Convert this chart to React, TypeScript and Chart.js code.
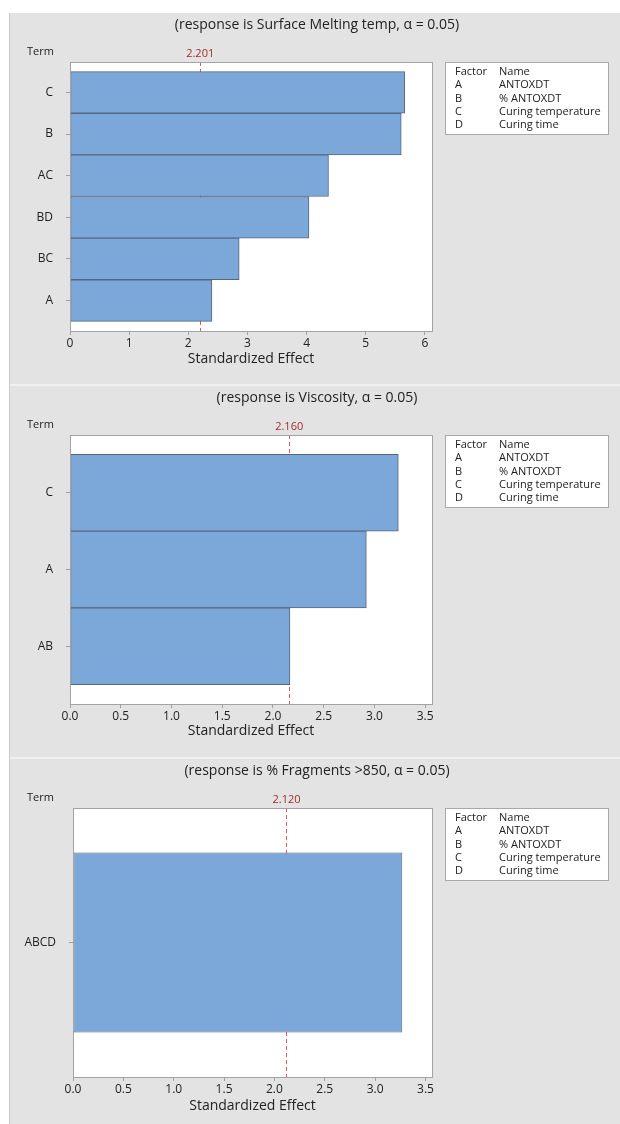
import React, { useEffect, useRef } from 'react';
import { Chart, registerables } from 'chart.js';

Chart.register(...registerables);

const FONT = "'Open Sans', 'DejaVu Sans', sans-serif";

// Legend (factor table)
const factorLetters = ['A', 'B', 'C', 'D'];
const factorNames = ['ANTOXDT', '% ANTOXDT', 'Curing temperature', 'Curing time'];

// Panel 1
const meltTitle = '(response is Surface Melting temp, α = 0.05)';
const meltTerms = ['C', 'B', 'AC', 'BD', 'BC', 'A'];
const meltEffects = [5.66, 5.6, 4.37, 4.04, 2.86, 2.4];
const meltCritical = 2.201;
const meltXTicks = [0, 1, 2, 3, 4, 5, 6];
const meltXLabels = ['0', '1', '2', '3', '4', '5', '6'];

// Panel 2
const viscTitle = '(response is Viscosity, α = 0.05)';
const viscTerms = ['C', 'A', 'AB'];
const viscEffects = [3.235, 2.92, 2.167];
const viscCritical = 2.16;
const viscXTicks = [0, 0.5, 1, 1.5, 2, 2.5, 3, 3.5];
const viscXLabels = ['0.0', '0.5', '1.0', '1.5', '2.0', '2.5', '3.0', '3.5'];

// Panel 3
const fragTitle = '(response is % Fragments >850, α = 0.05)';
const fragTerms = ['ABCD'];
const fragEffects = [3.27];
const fragCritical = 2.12;
const fragXTicks = [0, 0.5, 1, 1.5, 2, 2.5, 3, 3.5];
const fragXLabels = ['0.0', '0.5', '1.0', '1.5', '2.0', '2.5', '3.0', '3.5'];

const BG = '#e3e3e3';
const W = 610;

type PanelProps = {
  title: string;
  terms: string[];
  effects: number[];
  critical: number;
  critLabel: string;
  xMax: number;
  xTicks: number[];
  xLabels: string[];
  height: number;
  plotLeft: number;
  pad: number;
  stdY: number;
};

function ParetoPanel(p: PanelProps) {
  const ref = useRef<HTMLCanvasElement>(null);
  useEffect(() => {
    const canvas = ref.current;
    if (!canvas) return;
    const n = p.terms.length;
    const yMin = -0.5 - p.pad;
    const yMax = n - 0.5 + p.pad;
    const H = p.height;
    const plotTop = 49;
    const plotBottom = 318;
    const plotRight = 422;

    const decor = {
      id: 'decor',
      beforeDraw(chart: any) {
        const { ctx, chartArea: a } = chart;
        ctx.save();
        ctx.fillStyle = BG;
        ctx.fillRect(0, 0, W, H);
        ctx.fillStyle = '#ffffff';
        ctx.fillRect(a.left, a.top, a.right - a.left, a.bottom - a.top);
        ctx.restore();
      },
      beforeDatasetsDraw(chart: any) {
        const { ctx, chartArea: a } = chart;
        const x = Math.round(chart.scales.x.getPixelForValue(p.critical)) + 0.5;
        ctx.save();
        ctx.strokeStyle = '#e05555';
        ctx.lineWidth = 1;
        ctx.setLineDash([4, 3]);
        ctx.beginPath();
        ctx.moveTo(x, a.top);
        ctx.lineTo(x, a.bottom);
        ctx.stroke();
        ctx.restore();
      },
      afterDraw(chart: any) {
        const { ctx, chartArea: a } = chart;
        ctx.save();
        // plot frame
        ctx.strokeStyle = '#a3a3a3';
        ctx.lineWidth = 1;
        ctx.strokeRect(Math.round(a.left) + 0.5, Math.round(a.top) + 0.5, Math.round(a.right - a.left), Math.round(a.bottom - a.top));
        // panel title
        ctx.font = `14px ${FONT}`;
        ctx.fillStyle = '#222222';
        ctx.textAlign = 'center';
        ctx.textBaseline = 'middle';
        ctx.fillText(p.title, W / 2 + 2, 12);
        // critical label
        const x = chart.scales.x.getPixelForValue(p.critical);
        ctx.font = `11px ${FONT}`;
        ctx.fillStyle = '#9e2c2c';
        ctx.fillText(p.critLabel, x, 41);
        // Term label
        ctx.fillStyle = '#222222';
        ctx.textAlign = 'left';
        ctx.fillText('Term', 17, 39);
        // factor legend
        const bx = 436;
        const by = 50;
        ctx.fillStyle = '#ffffff';
        ctx.fillRect(bx, by, 163, 72);
        ctx.strokeStyle = '#a8a8a8';
        ctx.strokeRect(bx - 0.5, by - 0.5, 163, 72);
        ctx.fillStyle = '#222222';
        ctx.fillText('Factor', bx + 9, by + 9);
        ctx.fillText('Name', bx + 53, by + 9);
        factorLetters.forEach((f, i) => {
          const yy = by + 9 + 13.3 * (i + 1);
          ctx.fillText(f, bx + 9, yy);
          ctx.fillText(factorNames[i], bx + 53, yy);
        });
        ctx.restore();
      },
    };

    const chart = new Chart(canvas, {
      type: 'bar',
      data: {
        datasets: [
          {
            data: p.effects.map((v, i) => ({ x: v, y: i })),
            backgroundColor: '#7ba7d9',
            borderColor: '#56667c',
            borderWidth: 1,
            borderSkipped: false,
            barPercentage: n > 1 ? 1 : 1 / (yMax - yMin),
            categoryPercentage: 1,
          } as any,
        ],
      },
      options: {
        indexAxis: 'y',
        responsive: false,
        animation: false,
        devicePixelRatio: 1,
        layout: { padding: { left: 0, right: W - plotRight, top: plotTop, bottom: 0 } },
        plugins: {
          legend: { display: false },
          tooltip: { enabled: false },
          title: { display: false },
        },
        scales: {
          x: {
            type: 'linear',
            min: 0,
            max: p.xMax,
            offset: false,
            afterBuildTicks: (s: any) => {
              s.ticks = p.xTicks.map((v) => ({ value: v }));
            },
            afterFit: (s: any) => {
              s.height = H - plotBottom;
            },
            ticks: {
              autoSkip: false,
              includeBounds: false,
              maxRotation: 0,
              padding: 1,
              color: '#222222',
              font: { family: FONT, size: 12 },
              callback: (v: any) => {
                const k = p.xTicks.indexOf(Number(v));
                return k >= 0 ? p.xLabels[k] : '';
              },
            },
            grid: { display: true, offset: false, drawOnChartArea: false, drawTicks: true, tickLength: 4, color: '#a0a0a0' },
            border: { display: false },
            title: {
              display: true,
              text: 'Standardized Effect',
              color: '#222222',
              font: { family: FONT, size: 14, weight: 'normal' },
              padding: { top: 0, bottom: H - p.stdY - 8.4 },
            },
          },
          y: {
            type: 'linear',
            reverse: true,
            min: yMin,
            max: yMax,
            offset: false,
            afterBuildTicks: (s: any) => {
              s.ticks = p.terms.map((_, i) => ({ value: i }));
            },
            afterFit: (s: any) => {
              s.width = p.plotLeft;
            },
            ticks: {
              autoSkip: false,
              includeBounds: false,
              padding: 13,
              color: '#222222',
              font: { family: FONT, size: 12 },
              callback: (v: any) => p.terms[Number(v)] ?? '',
            },
            grid: { display: true, offset: false, drawOnChartArea: false, drawTicks: true, tickLength: 4, color: '#a0a0a0' },
            border: { display: false },
          },
        },
      } as any,
      plugins: [decor],
    });
    return () => chart.destroy();
  }, []);
  return <canvas ref={ref} width={W} height={p.height} style={{ display: 'block', width: W, height: p.height, background: BG }} />;
}

export default function App() {
  return (
    <div style={{ position: 'absolute', left: 0, top: 0, width: 620, height: 1124, overflow: 'hidden', background: '#ffffff' }}>
      <div style={{ position: 'absolute', left: 9, top: 13, width: 1, height: 1111, background: '#c9c9c9' }} />
      <div style={{ position: 'absolute', left: 10, top: 384, width: 610, height: 2, background: '#f0f0f0' }} />
      <div style={{ position: 'absolute', left: 10, top: 757, width: 610, height: 2, background: '#f0f0f0' }} />
      <div style={{ position: 'absolute', left: 10, top: 13 }}>
        <ParetoPanel title={meltTitle} terms={meltTerms} effects={meltEffects} critical={meltCritical} critLabel="2.201"
          xMax={6.12} xTicks={meltXTicks} xLabels={meltXLabels} height={371} plotLeft={60} pad={0.23} stdY={346.5} />
      </div>
      <div style={{ position: 'absolute', left: 10, top: 386 }}>
        <ParetoPanel title={viscTitle} terms={viscTerms} effects={viscEffects} critical={viscCritical} critLabel="2.160"
          xMax={3.567} xTicks={viscXTicks} xLabels={viscXLabels} height={371} plotLeft={60} pad={0.25} stdY={345.5} />
      </div>
      <div style={{ position: 'absolute', left: 10, top: 759 }}>
        <ParetoPanel title={fragTitle} terms={fragTerms} effects={fragEffects} critical={fragCritical} critLabel="2.120"
          xMax={3.565} xTicks={fragXTicks} xLabels={fragXLabels} height={365} plotLeft={63} pad={0.247} stdY={347} />
      </div>
    </div>
  );
}
